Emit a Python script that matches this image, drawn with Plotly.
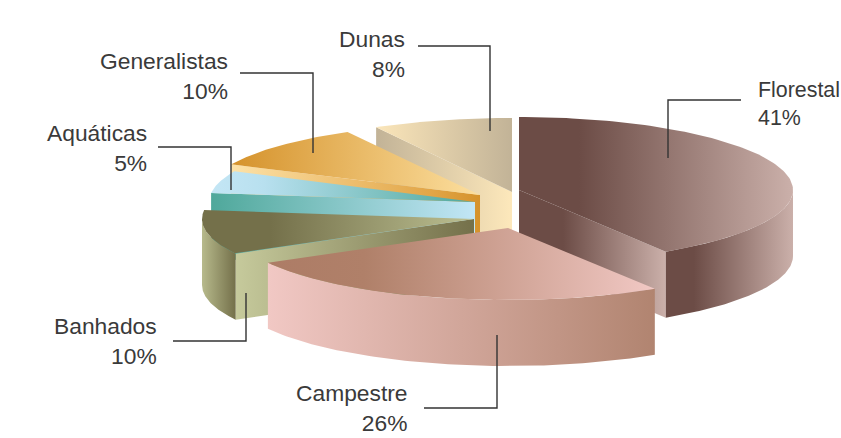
import numpy as np
import plotly.graph_objects as go

# --- data ---
categories = ["Florestal", "Campestre", "Banhados", "Aquáticas", "Generalistas", "Dunas"]
shares = [41, 26, 10, 5, 10, 8]

# --- geometry of the exploded, tilted pie ---
apex = {"Florestal": (519, 190), "Campestre": (508, 228), "Banhados": (474, 219),
        "Aquáticas": (475, 202), "Generalistas": (480, 195), "Dunas": (512, 192)}
radius_x = {"Florestal": 274, "Campestre": 274, "Banhados": 272,
            "Aquáticas": 266, "Generalistas": 275, "Dunas": 282}
radius_y = {"Florestal": 73, "Campestre": 72, "Banhados": 72,
            "Aquáticas": 72, "Generalistas": 72, "Dunas": 74}
DEPTH = 66

# --- styles: colour ramps, left to right ---
top_ramp = {
    "Florestal": [[0, "#6c4c46"], [.22, "#6c4c46"], [1, "#cbb0aa"]],
    "Campestre": [[0, "#ad7c66"], [.25, "#b08069"], [1, "#f1c8c4"]],
    "Banhados": [[0, "#74704a"], [.25, "#74704a"], [1, "#bcc092"]],
    "Aquáticas": [[0, "#c4e6f5"], [.2, "#b8e0ef"], [1, "#4fa89b"]],
    "Generalistas": [[0, "#d5922b"], [1, "#fcdf9f"]],
    "Dunas": [[0, "#fbe6ba"], [1, "#c2b397"]],
}
side_ramp = {
    "Florestal": [[0, "#6c4c46"], [.22, "#6c4c46"], [1, "#cbb0aa"]],
    "Campestre": [[0, "#f1c8c4"], [1, "#b18470"]],
    "Banhados": [[0, "#b7ba8c"], [1, "#74704a"]],
}
radial_ramp = {
    "Florestal": [[0, "#6c4c46"], [.3, "#6c4c46"], [1, "#cbb0aa"]],
    "Banhados": [[0, "#c6ca9c"], [1, "#74704a"]],
    "Aquáticas": [[0, "#4fa89b"], [1, "#c2e6f6"]],
    "Generalistas": [[0, "#fde2a8"], [.8, "#e2a648"], [1, "#d5922b"]],
    "Dunas": [[0, "#c2b397"], [1, "#fde8bb"]],
}
labels = {
    "Florestal": (756, 104, "left", "41%", 21.4),
    "Campestre": (410, 408, "right", "26%", 22.8),
    "Banhados": (159, 341, "right", "10%", 22.8),
    "Aquáticas": (149, 148, "right", "5%", 22.8),
    "Generalistas": (230, 76, "right", "10%", 22.8),
    "Dunas": (407, 54, "right", "8%", 22.8),
}
leaders = {
    "Florestal": [(668, 158), (668, 100), (741, 100)],
    "Campestre": [(424, 408), (497, 408), (497, 335)],
    "Banhados": [(173, 341), (246, 341), (246, 293)],
    "Aquáticas": [(158, 147), (231, 147), (231, 190)],
    "Generalistas": [(240, 73), (313, 73), (313, 153)],
    "Dunas": [(418, 46), (490, 46), (490, 131)],
}
INK = "#3a3a3a"
FONT = "Liberation Sans"
draw_order = ["Dunas", "Florestal", "Generalistas", "Aquáticas", "Banhados", "Campestre"]

# --- angles come from the shares, clockwise from 12 o'clock ---
total = sum(shares)
edges = np.cumsum([0] + shares) / total * 2 * np.pi
span = {c: (edges[i], edges[i + 1]) for i, c in enumerate(categories)}


def project(name, theta):
    cx, cy = apex[name]
    return cx + radius_x[name] * np.sin(theta), cy - radius_y[name] * np.cos(theta)


def face(fig, xs, ys, ramp, name):
    xs, ys = list(xs), list(ys)
    fig.add_trace(go.Scatter(
        x=xs + xs[:1], y=ys + ys[:1], mode="lines", line=dict(width=0), fill="toself",
        fillgradient=dict(type="horizontal", colorscale=ramp),
        hoverinfo="skip", showlegend=False, name=name))


fig = go.Figure()
for name in draw_order:
    t0, t1 = span[name]
    cx, cy = apex[name]
    # radial cut walls: only those turned toward the viewer
    for th, normal in ((t0, t0 - np.pi / 2), (t1, t1 + np.pi / 2)):
        if -np.cos(normal) > 1e-6:
            px, py = project(name, th)
            face(fig, [cx, px, px, cx], [cy, py, py + DEPTH, cy + DEPTH], radial_ramp[name], name)
    # outer rim: the part of the arc on the near side
    lo, hi = max(t0, np.pi / 2), min(t1, 3 * np.pi / 2)
    if hi > lo:
        th = np.linspace(lo, hi, 80)
        px, py = project(name, th)
        face(fig, np.r_[px, px[::-1]], np.r_[py, py[::-1] + DEPTH], side_ramp[name], name)
    # top
    th = np.linspace(t0, t1, 120)
    px, py = project(name, th)
    face(fig, np.r_[cx, px], np.r_[cy, py], top_ramp[name], name)

shapes = []
for name, pts in leaders.items():
    path = "M" + " L".join(f"{x},{y}" for x, y in pts)
    shapes.append(dict(type="path", path=path, xref="x", yref="y",
                       line=dict(color="#333333", width=1.4)))

annotations = []
for name, (x, y, side, pct, size) in labels.items():
    annotations.append(dict(
        x=x, y=y, xref="x", yref="y", xanchor=side, yanchor="middle", align=side,
        text=f"{name}<br>{pct}", showarrow=False,
        font=dict(family=FONT, size=size, color=INK)))

fig.update_layout(
    width=841, height=438, margin=dict(l=0, r=0, t=0, b=0),
    paper_bgcolor="white", plot_bgcolor="white",
    xaxis=dict(range=[0, 841], visible=False, fixedrange=True),
    yaxis=dict(range=[438, 0], visible=False, fixedrange=True),
    shapes=shapes, annotations=annotations, showlegend=False)

fig.write_html("out.html", config={"displayModeBar": False},
               post_script="document.body.style.margin='0';window.dispatchEvent(new Event('resize'));")
